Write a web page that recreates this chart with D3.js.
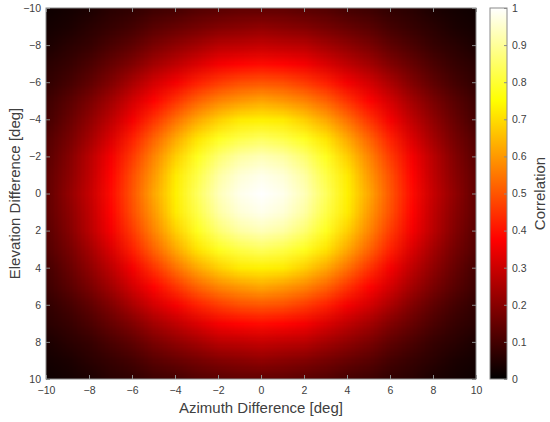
<!DOCTYPE html>
<meta charset="utf-8">
<style>
  body { margin: 0; background: #fff; }
  text { font-family: "Liberation Sans", Arial, sans-serif; }
</style>
<script src="https://cdn.jsdelivr.net/npm/d3@7"></script>
<div id="chart"></div>
<script>
// grid positions (deg)
var azimuth = [-10,-9,-8,-7,-6,-5,-4,-3,-2,-1,0,1,2,3,4,5,6,7,8,9,10];
var elevation = [-10,-9,-8,-7,-6,-5,-4,-3,-2,-1,0,1,2,3,4,5,6,7,8,9,10];

// correlation, one row per elevation (top = -10)
var correlation = [
  [.02,.03,.04,.06,.07,.09,.10,.12,.13,.14,.14,.14,.13,.12,.10,.09,.07,.06,.04,.03,.02],
  [.03,.04,.06,.08,.10,.13,.15,.17,.19,.20,.21,.20,.19,.17,.15,.13,.10,.08,.06,.04,.03],
  [.04,.06,.08,.11,.14,.18,.21,.24,.27,.28,.29,.28,.27,.24,.21,.18,.14,.11,.08,.06,.04],
  [.06,.08,.11,.15,.19,.24,.28,.32,.36,.38,.39,.38,.36,.32,.28,.24,.19,.15,.11,.08,.06],
  [.07,.10,.14,.19,.25,.31,.36,.42,.46,.49,.50,.49,.46,.42,.36,.31,.25,.19,.14,.10,.07],
  [.09,.13,.18,.24,.31,.38,.45,.52,.57,.60,.62,.60,.57,.52,.45,.38,.31,.24,.18,.13,.09],
  [.10,.15,.21,.28,.36,.45,.54,.62,.68,.72,.73,.72,.68,.62,.54,.45,.36,.28,.21,.15,.10],
  [.12,.17,.24,.32,.42,.52,.62,.71,.78,.82,.84,.82,.78,.71,.62,.52,.42,.32,.24,.17,.12],
  [.13,.19,.27,.36,.46,.57,.68,.78,.86,.91,.93,.91,.86,.78,.68,.57,.46,.36,.27,.19,.13],
  [.14,.20,.28,.38,.49,.60,.72,.82,.91,.96,.98,.96,.91,.82,.72,.60,.49,.38,.28,.20,.14],
  [.14,.21,.29,.39,.50,.62,.73,.84,.93,.98,1.0,.98,.93,.84,.73,.62,.50,.39,.29,.21,.14],
  [.14,.20,.28,.38,.49,.60,.72,.82,.91,.96,.98,.96,.91,.82,.72,.60,.49,.38,.28,.20,.14],
  [.13,.19,.27,.36,.46,.57,.68,.78,.86,.91,.93,.91,.86,.78,.68,.57,.46,.36,.27,.19,.13],
  [.12,.17,.24,.32,.42,.52,.62,.71,.78,.82,.84,.82,.78,.71,.62,.52,.42,.32,.24,.17,.12],
  [.10,.15,.21,.28,.36,.45,.54,.62,.68,.72,.73,.72,.68,.62,.54,.45,.36,.28,.21,.15,.10],
  [.09,.13,.18,.24,.31,.38,.45,.52,.57,.60,.62,.60,.57,.52,.45,.38,.31,.24,.18,.13,.09],
  [.07,.10,.14,.19,.25,.31,.36,.42,.46,.49,.50,.49,.46,.42,.36,.31,.25,.19,.14,.10,.07],
  [.06,.08,.11,.15,.19,.24,.28,.32,.36,.38,.39,.38,.36,.32,.28,.24,.19,.15,.11,.08,.06],
  [.04,.06,.08,.11,.14,.18,.21,.24,.27,.28,.29,.28,.27,.24,.21,.18,.14,.11,.08,.06,.04],
  [.03,.04,.06,.08,.10,.13,.15,.17,.19,.20,.21,.20,.19,.17,.15,.13,.10,.08,.06,.04,.03],
  [.02,.03,.04,.06,.07,.09,.10,.12,.13,.14,.14,.14,.13,.12,.10,.09,.07,.06,.04,.03,.02]
];

var axisTicks = [-10,-8,-6,-4,-2,0,2,4,6,8,10];
var colorTicks = [0,0.1,0.2,0.3,0.4,0.5,0.6,0.7,0.8,0.9,1];

var W = 550, H = 422;
var plot = {left: 46, top: 8, width: 430, height: 371};
var cb = {left: 490, width: 17};
var axisCol = "#8a8a8a", textCol = "#404040";

var svg = d3.select("#chart").append("svg")
    .attr("width", W).attr("height", H);

var x = d3.scaleLinear().domain([-10, 10]).range([plot.left, plot.left + plot.width]);
var y = d3.scaleLinear().domain([-10, 10]).range([plot.top, plot.top + plot.height]);

// matlab "hot"
var color = d3.scaleLinear()
    .domain([0, 0.375, 0.75, 1])
    .range(["#000000", "#ff0000", "#ffff00", "#ffffff"])
    .clamp(true);

// paint the grid into a tiny canvas, let the browser smooth it when scaled up
var n = azimuth.length, m = elevation.length;
var cv = document.createElement("canvas");
cv.width = n; cv.height = m;
var ctx = cv.getContext("2d");
correlation.forEach(function(row, j) {
  row.forEach(function(v, i) {
    ctx.fillStyle = color(v);
    ctx.fillRect(i, j, 1, 1);
  });
});

svg.append("clipPath").attr("id", "clip")
  .append("rect")
    .attr("x", plot.left).attr("y", plot.top)
    .attr("width", plot.width).attr("height", plot.height);

var stepX = azimuth[1] - azimuth[0], stepY = elevation[1] - elevation[0];
svg.append("image")
    .attr("clip-path", "url(#clip)")
    .attr("href", cv.toDataURL())
    .attr("preserveAspectRatio", "none")
    .attr("x", x(azimuth[0] - stepX / 2))
    .attr("y", y(elevation[0] - stepY / 2))
    .attr("width", x(azimuth[n - 1] + stepX / 2) - x(azimuth[0] - stepX / 2))
    .attr("height", y(elevation[m - 1] + stepY / 2) - y(elevation[0] - stepY / 2));

// axes: ticks pointing inwards, box around
function styleAxis(g) {
  g.select(".domain").remove();
  g.selectAll(".tick line").attr("stroke", axisCol);
  g.selectAll(".tick text").attr("fill", textCol).style("font-size", "10.5px");
}
svg.append("g")
    .attr("transform", "translate(0," + (plot.top + plot.height) + ")")
    .call(d3.axisBottom(x).tickValues(axisTicks).tickSizeInner(-4).tickSizeOuter(0).tickPadding(8))
    .call(styleAxis);
svg.append("g")
    .attr("transform", "translate(0," + plot.top + ")")
    .call(d3.axisTop(x).tickValues(axisTicks).tickSizeInner(-4).tickSizeOuter(0).tickFormat(""))
    .call(styleAxis);
svg.append("g")
    .attr("transform", "translate(" + plot.left + ",0)")
    .call(d3.axisLeft(y).tickValues(axisTicks).tickSizeInner(-4).tickSizeOuter(0).tickPadding(5))
    .call(styleAxis);
svg.append("g")
    .attr("transform", "translate(" + (plot.left + plot.width) + ",0)")
    .call(d3.axisRight(y).tickValues(axisTicks).tickSizeInner(-4).tickSizeOuter(0).tickFormat(""))
    .call(styleAxis);

svg.append("rect")
    .attr("x", plot.left).attr("y", plot.top)
    .attr("width", plot.width).attr("height", plot.height)
    .attr("fill", "none").attr("stroke", axisCol);

// colorbar
var cy = d3.scaleLinear().domain([0, 1]).range([plot.top + plot.height, plot.top]);
var grad = svg.append("defs").append("linearGradient")
    .attr("id", "hot").attr("x1", 0).attr("y1", 1).attr("x2", 0).attr("y2", 0);
grad.selectAll("stop").data(color.domain()).enter().append("stop")
    .attr("offset", function(d) { return d; })
    .attr("stop-color", function(d) { return color(d); });

svg.append("rect")
    .attr("x", cb.left).attr("y", cy(1))
    .attr("width", cb.width).attr("height", cy(0) - cy(1))
    .attr("fill", "url(#hot)")
    .attr("stroke", axisCol);

svg.append("g")
    .attr("transform", "translate(" + (cb.left + cb.width) + ",0)")
    .call(d3.axisRight(cy).tickValues(colorTicks).tickSizeInner(-3).tickSizeOuter(0).tickPadding(5)
      .tickFormat(function(d) { return d3.format("")(d); }))
    .call(styleAxis);

// labels
svg.append("text")
    .attr("x", x(0)).attr("y", 413)
    .attr("text-anchor", "middle")
    .attr("fill", textCol).style("font-size", "15px")
    .text("Azimuth Difference [deg]");

svg.append("text")
    .attr("transform", "translate(19.5," + y(0) + ") rotate(-90)")
    .attr("text-anchor", "middle")
    .attr("fill", textCol).style("font-size", "15px")
    .text("Elevation Difference [deg]");

svg.append("text")
    .attr("transform", "translate(545," + cy(0.5) + ") rotate(-90)")
    .attr("text-anchor", "middle")
    .attr("fill", textCol).style("font-size", "15px")
    .text("Correlation");
</script>
